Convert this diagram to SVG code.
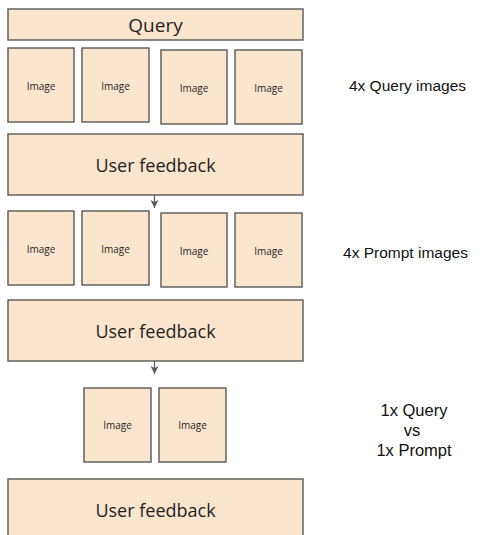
<svg xmlns="http://www.w3.org/2000/svg" width="480" height="535" viewBox="0 0 480 535">
<defs>
<style>
.box{fill:#fce5cd;stroke:#595959;stroke-width:1.4}
.t{font-family:"Open Sans",Roboto,sans-serif;fill:#1f1f1f;text-anchor:middle}
.q{font-size:19px}
.big{font-size:18px}
.sm{font-size:10px}
.lbl{font-family:"Liberation Sans",Arial,sans-serif;font-size:15.5px;fill:#111111;text-anchor:middle}
.lbl2{font-size:16.5px}
.conn{stroke:#595959;stroke-width:1.2;fill:none}
</style>
<marker id="ah" markerWidth="10" markerHeight="10" refX="8" refY="4" orient="auto" markerUnits="userSpaceOnUse">
<path d="M0,0 L8,4 L0,8 L2,4 Z" fill="#595959"/>
</marker>
</defs>
<rect width="480" height="535" fill="#ffffff"/>
<g id="query"><rect class="box" x="8" y="9" width="295" height="31"/><text class="t q" x="155.5" y="32">Query</text></g>
<g id="img1"><rect class="box" x="8" y="48" width="66" height="74"/><text class="t sm" x="41" y="89.5">Image</text></g>
<g id="img2"><rect class="box" x="82" y="48" width="67" height="74"/><text class="t sm" x="115.5" y="89.5">Image</text></g>
<g id="img3"><rect class="box" x="161" y="50" width="66" height="74"/><text class="t sm" x="194" y="92">Image</text></g>
<g id="img4"><rect class="box" x="235" y="50" width="67" height="74"/><text class="t sm" x="268.5" y="92">Image</text></g>
<g id="fb1"><rect class="box" x="8" y="134" width="295" height="61"/><text class="t big" x="155.5" y="171.5">User feedback</text></g>
<g id="img5"><rect class="box" x="8" y="211" width="66" height="74"/><text class="t sm" x="41" y="252.5">Image</text></g>
<g id="img6"><rect class="box" x="82" y="211" width="67" height="74"/><text class="t sm" x="115.5" y="252.5">Image</text></g>
<g id="img7"><rect class="box" x="161" y="213" width="66" height="74"/><text class="t sm" x="194" y="255">Image</text></g>
<g id="img8"><rect class="box" x="235" y="213" width="67" height="74"/><text class="t sm" x="268.5" y="255">Image</text></g>
<g id="fb2"><rect class="box" x="8" y="300" width="295" height="61"/><text class="t big" x="155.5" y="337.5">User feedback</text></g>
<g id="img9"><rect class="box" x="84" y="388" width="67" height="74"/><text class="t sm" x="117.5" y="429">Image</text></g>
<g id="img10"><rect class="box" x="159" y="388" width="67" height="74"/><text class="t sm" x="192.5" y="429">Image</text></g>
<g id="fb3"><rect class="box" x="8" y="479" width="295" height="62"/><text class="t big" x="155.5" y="516.5">User feedback</text></g>
<g id="labels">
<text class="lbl" x="407.5" y="90.5">4x Query images</text>
<text class="lbl" x="405.5" y="258">4x Prompt images</text>
<text class="lbl lbl2" x="414" y="416">1x Query</text>
<text class="lbl lbl2" x="412" y="435.5">vs</text>
<text class="lbl lbl2" x="414" y="456">1x Prompt</text>
</g>
<g id="connectors">
<line class="conn" x1="154.5" y1="195" x2="154.5" y2="208" marker-end="url(#ah)"/>
<line class="conn" x1="154.5" y1="361" x2="154.5" y2="374" marker-end="url(#ah)"/>
</g>
</svg>
